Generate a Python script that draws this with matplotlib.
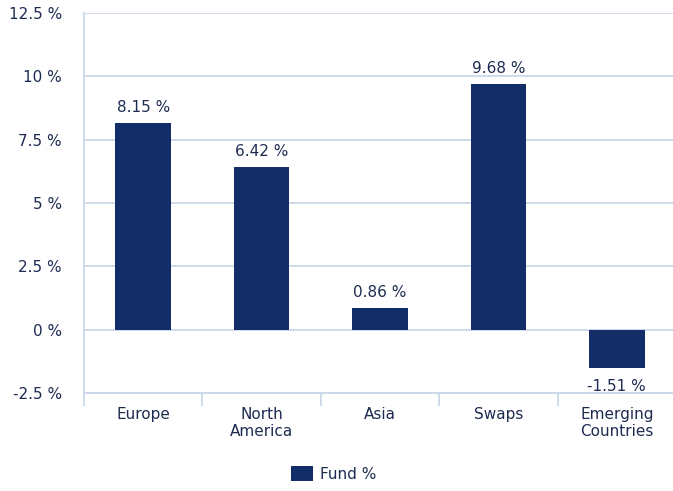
import matplotlib
matplotlib.use("Agg")
import matplotlib.pyplot as plt
import numpy as np

categories = ["Europe", "North\nAmerica", "Asia", "Swaps", "Emerging\nCountries"]
values = [8.15, 6.42, 0.86, 9.68, -1.51]
yticks = [-2.5, 0, 2.5, 5, 7.5, 10, 12.5]
ytick_labels = ["-2.5 %", "0 %", "2.5 %", "5 %", "7.5 %", "10 %", "12.5 %"]
series_name = "Fund %"

bar_color = "#132d69"
text_color = "#1e2c52"
grid_color = "#cad7e8"
fs = 11

plt.rcParams['font.family'] = ['DejaVu Sans']
fig = plt.figure(figsize=(6.73, 4.91), dpi=100)
W, H = 673, 491
ax = fig.add_axes([84 / W, (H - 393) / H, (676 - 84) / W, 380 / H])

x = np.arange(len(categories))
bars = ax.bar(x, values, width=0.47, color=bar_color, zorder=3, label=series_name)

ax.set_xlim(-0.5, len(categories) - 0.5)
ax.set_ylim(-2.5, 12.5)
ax.set_yticks(yticks)
ax.set_yticklabels(ytick_labels)
ax.yaxis.grid(True, color=grid_color, linewidth=1.3, zorder=0)
ax.set_axisbelow(True)

ax.set_xticks(x)
ax.set_xticklabels(categories)
ax.set_xticks(np.arange(-0.5, len(categories) - 0.5, 1.0), minor=True)
ax.tick_params(axis='x', which='major', length=0, pad=10, labelsize=fs, labelcolor=text_color)
ax.tick_params(axis='x', which='minor', length=9.5, width=1.3, color=grid_color, direction='out')
ax.tick_params(axis='y', length=0, pad=16, labelsize=fs, labelcolor=text_color)

for s in ['top', 'right']:
    ax.spines[s].set_visible(False)
ax.spines['left'].set_color(grid_color)
ax.spines['left'].set_linewidth(1.3)
ax.spines['bottom'].set_color(grid_color)
ax.spines['bottom'].set_linewidth(1.3)

for xi, v in zip(x, values):
    if v >= 0:
        ax.annotate(f"{v:.2f} %", (xi, v), xytext=(0, 6), textcoords='offset points',
                    ha='center', va='bottom', fontsize=fs, color=text_color)
    else:
        ax.annotate(f"{v:.2f} %", (xi, v), xytext=(0, -8), textcoords='offset points',
                    ha='center', va='top', fontsize=fs, color=text_color)

leg = fig.legend(handles=[bars], labels=[series_name], loc='center',
                 bbox_to_anchor=(334 / W, (H - 474) / H), frameon=False,
                 fontsize=fs, handlelength=1.45, handleheight=1.1, handletextpad=0.45)
for t in leg.get_texts():
    t.set_color(text_color)

fig.savefig("out.png", dpi=100)
